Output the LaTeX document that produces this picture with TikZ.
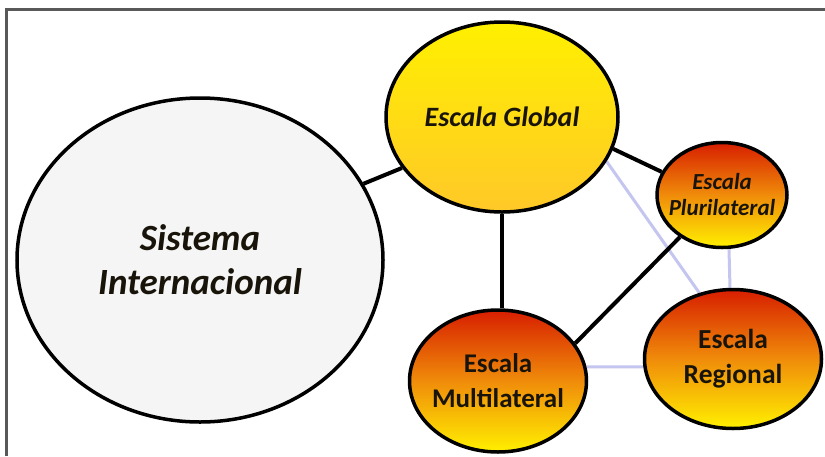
\documentclass[tikz,border=0pt]{standalone}
\usepackage{fontspec}
\setmainfont{Carlito}
\usetikzlibrary{shapes.geometric}
\pgfdeclarelayer{bg}
\pgfsetlayers{bg,main}
\definecolor{lav}{RGB}{196,198,240}
\definecolor{ink}{RGB}{25,20,10}
\definecolor{ylw}{RGB}{255,240,0}
\definecolor{gold}{RGB}{255,200,40}
\definecolor{rd}{RGB}{215,30,0}
\definecolor{org}{RGB}{240,140,10}
\tikzset{
  blob/.style={ellipse, draw=black, line width=3.5pt, inner sep=-60pt, text=ink, align=center},
  warm/.style={blob, top color=rd, bottom color=ylw, middle color=org},
  strong/.style={draw=black, line width=4pt},
  soft/.style={draw=lav, line width=3pt},
}
\begin{document}
\begin{tikzpicture}[x=1pt,y=-1pt]
\useasboundingbox (0,0) rectangle (825,456);
\node[blob, fill=black!4, minimum width=366pt, minimum height=324pt,
      font=\bfseries\itshape\fontsize{37}{44}\selectfont] (sis) at (200,260) {Sistema\\Internacional};
\node[blob, top color=ylw, bottom color=gold, minimum width=232pt, minimum height=190pt,
      font=\bfseries\itshape\fontsize{28}{30}\selectfont] (glo) at (502,117) {Escala Global};
\node[warm, minimum width=130pt, minimum height=105pt,
      font=\bfseries\itshape\fontsize{23}{26}\selectfont] (plu) at (722,195) {Escala\\Plurilateral};
\node[warm, minimum width=177pt, minimum height=139pt,
      font=\bfseries\fontsize{27.5}{35}\selectfont] (reg) at (733,359) {Escala\\Regional};
\node[warm, minimum width=177pt, minimum height=142pt,
      font=\bfseries\fontsize{27}{35}\selectfont] (mul) at (498,381) {Escala\\Multilateral};
\begin{pgfonlayer}{bg}
  \fill[white] (0,0) rectangle (825,456);
  \draw[black!65, line width=2.2pt] (6.5,456) -- (6.5,9.5) -- (825,9.5);
  \draw[soft] (glo.-23) -- (reg.117);
  \draw[soft] ([xshift=7pt]plu.south) -- ([xshift=-3pt]reg.north);
  \draw[soft] (mul.9) -- (reg.185);
  \draw[strong] (sis.25) -- (glo.207);
  \draw[strong] (glo.south) -- (glo.south |- mul.north);
  \draw[strong] (glo.-16) -- (plu.159);
  \draw[strong] (plu.225) -- (mul.26);
\end{pgfonlayer}
\end{tikzpicture}
\end{document}
